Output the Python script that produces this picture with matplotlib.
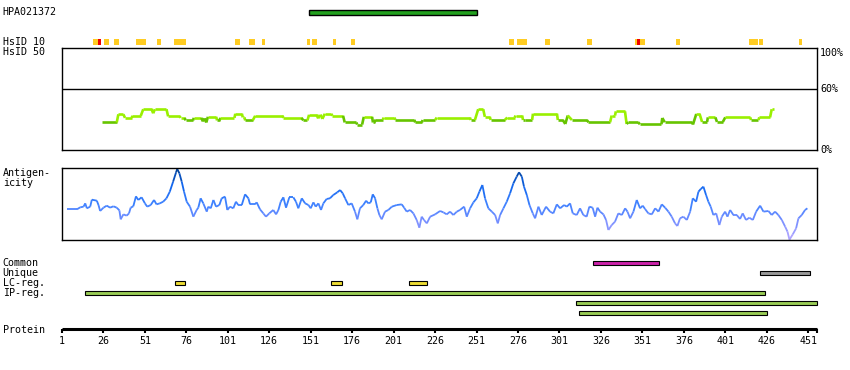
import numpy as np
import matplotlib
matplotlib.use("Agg")
import matplotlib.pyplot as plt
from matplotlib.patches import Rectangle
from matplotlib.collections import LineCollection
from matplotlib.colors import LinearSegmentedColormap

# --- data ---
protein_len = 456
antibody = "HPA021372"
antibody_range = (150, 251)

# HsID 10 marks (start, end) in residues
hsid10_start = [20, 27, 33, 46, 48, 59, 69, 106, 114, 122, 149, 152, 165, 176,
                271, 276, 293, 318, 347, 372, 416, 419, 422, 446]
hsid10_end = [24, 29, 35, 47, 51, 60, 75, 108, 117, 123, 150, 154, 166, 177,
              273, 281, 295, 320, 352, 373, 418, 420, 423, 447]
hsid10_red_start = [23, 348]
hsid10_red_end = [24, 349]

# HsID 50 similarity line (% identity), stepwise segments
hsid_start = [25, 35, 39, 43.5, 50, 56, 57, 65, 72.5, 75.5, 80.5, 86, 87, 88, 89,
              94.5, 96.5, 105.5, 110, 111.5, 117.5, 134.5, 146.5, 150, 155.5,
              156.5, 158, 159.5, 164, 171.5, 179, 183, 188.5, 190, 195, 202, 214,
              218.5, 227, 247.5, 252, 256, 259.5, 269.5, 274.5, 279, 280, 285,
              300, 304.5, 306, 308.5, 318.5, 332.5, 335, 341.5, 342.5, 349.5,
              363, 364.5, 381.5, 383.5, 387, 390.5, 396, 401, 416.5, 421.5, 429]
hsid_end = [34, 38, 43, 48.5, 55, 56, 64, 72, 75, 80, 85, 86, 87, 88, 94,
            96, 105, 109.5, 111, 116, 134, 145.5, 149, 154.5, 155.5,
            157, 158, 163.5, 170.5, 178.5, 182, 188, 189.5, 194.5, 201.5, 213.5, 218,
            226, 247, 250, 255, 259, 268, 274, 278.5, 279, 284.5, 299.5,
            303, 304.5, 306, 317.5, 331.5, 334.5, 340.5, 341.5, 348.5, 362.5,
            363, 381, 381.5, 385.5, 390, 395, 399.5, 416, 421, 428, 430.5]
hsid_val = [27, 35, 31.5, 33.5, 40, 36, 40, 33, 31.5, 29, 31.5, 28, 31, 27, 32.5,
            29, 31.5, 35.5, 32, 29, 33.5, 31.5, 29, 34.5, 31,
            34.5, 30.5, 35.5, 33.5, 27, 25, 32.5, 27, 29.8, 31.8, 29.6, 27,
            29.4, 31.8, 29.4, 40, 32.5, 29.4, 31.8, 33.8, 29.4, 29.4, 35.6,
            29.4, 25.5, 33.8, 29.4, 27.2, 33.8, 37.9, 25.5, 27.2, 25.2,
            31.4, 27.2, 25, 35.3, 27.5, 32, 27.5, 32, 29.4, 32, 40]

# antigenicity profile (relative score, 0-100)
ag_pos = [4, 10, 12, 14, 15, 16, 18, 19, 22, 23, 24, 26, 28, 30, 32, 34, 35.6, 36.4,
          38, 40, 41.4, 42.4, 44, 45.6, 47, 49, 51, 52.4, 54.5, 56.5, 58, 60, 62, 64,
          66, 68, 69.8, 70.5, 71.8, 73.2, 74.6, 76.2, 78.2, 80.2, 82.2, 83.2, 84.6,
          86.2, 88.3, 89.2, 90.7, 92.3, 93.9, 95.9, 97.3, 99.3, 100.7, 102.3, 104.3,
          105.9, 107.3, 109.4, 111.4, 113.4, 114.4, 117.4, 118.4, 120.4, 122.4, 124,
          126, 128.4, 130.1, 131.5, 132.9, 134.5, 136.1, 138.1, 140.5, 142.1, 143.5,
          145.6, 147.6, 149.6, 151, 152.6, 154, 155.6, 157.2, 158.6, 160.6, 162.6,
          164.6, 167, 168.7, 170.3, 171.7, 173.7, 175.7, 177.7, 179.1, 180.7, 182.7,
          184.4, 185.7, 187.2, 188.4, 189.8, 191.2, 192.4, 193.8, 195.8, 197.8, 199.9,
          202.9, 205.9, 207.3, 208.9, 210.9, 212.9, 214.9, 216.5, 217.9, 219.3, 221,
          223, 226, 229, 231, 233, 235, 237, 239.1, 241, 243.5, 245.1, 247.1, 249.1,
          251.1, 252.7, 254.5, 256.1, 258.1, 260.2, 262.2, 263.8, 265.2, 267.2, 269.2,
          271.2, 273.2, 275.2, 276.6, 278.3, 279.6, 281.3, 282.9, 284.9, 286.3, 288.3,
          290.3, 292.9, 295.3, 297.3, 299.4, 301.4, 303.8, 305.4, 307.4, 309, 311.4,
          313.4, 315.4, 317.4, 319, 321, 322.5, 323.9, 325.5, 327.5, 329.1, 330.5,
          332.5, 334.5, 336.5, 338.6, 340.6, 342, 343.6, 345.6, 347.6, 349.6, 351.2,
          352.6, 354.6, 356.7, 358.7, 360.7, 362.7, 364.7, 366.7, 368.7, 370.7, 372.1,
          373.7, 375.7, 377.8, 379.8, 381.4, 383.4, 384.8, 386.2, 387.8, 389.4, 390.8,
          392.2, 393.8, 395.5, 397.4, 398.9, 400.9, 402.3, 403.9, 405.9, 407.9, 409.9,
          411.5, 413.5, 415.5, 417.6, 419.6, 422, 424, 427, 429, 431, 433, 435.1,
          437.1, 438.5, 439.7, 441.7, 443.7, 445.1, 447.1, 449.1, 450.5]
ag_val = [42.6, 42.6, 45.4, 46.3, 50.9, 44.0, 46.3, 56.0, 54.6, 48.6, 40.3, 44.9, 47.7,
          44.9, 46.8, 44.9, 41.2, 28.7, 35.6, 33.8, 37.0, 44.9, 46.8, 60.6, 55.6, 59.3,
          50.9, 46.3, 48.6, 55.6, 49.5, 50.9, 53.2, 57.9, 67.1, 81.0, 94.0, 98.6, 92.6,
          81.0, 67.1, 53.2, 46.3, 32.4, 41.7, 44.9, 57.9, 50.9, 39.4, 46.3, 44.0, 55.6,
          46.3, 48.6, 57.9, 60.2, 41.7, 46.3, 44.0, 53.2, 48.6, 48.6, 63.4, 57.9, 49.5,
          49.5, 52.3, 42.6, 37.0, 32.4, 37.0, 41.7, 35.6, 41.7, 53.2, 59.3, 44.9, 59.3,
          59.3, 53.2, 44.0, 57.9, 50.9, 48.6, 44.0, 52.3, 46.3, 50.9, 41.7, 50.9, 57.0,
          57.9, 62.5, 66.2, 69.4, 64.8, 57.9, 48.6, 50.9, 39.4, 28.7, 44.0, 48.6, 54.6,
          50.9, 52.3, 63.4, 57.9, 44.0, 34.7, 28.7, 39.4, 41.7, 46.3, 48.6, 49.5, 44.9,
          39.4, 41.7, 37.0, 27.8, 17.1, 32.4, 27.8, 23.1, 32.4, 35.6, 40.3, 38.4, 35.6,
          39.4, 34.7, 39.4, 41.7, 46.3, 32.4, 44.0, 52.3, 57.9, 67.1, 76.4, 57.9, 44.0,
          39.4, 34.7, 23.1, 34.7, 44.0, 53.2, 64.8, 78.7, 88.0, 94.0, 88.0, 74.1, 62.5,
          48.6, 37.0, 30.1, 46.3, 34.7, 46.3, 39.4, 37.0, 49.5, 44.0, 48.6, 46.3, 50.9,
          37.0, 34.7, 44.0, 34.7, 32.4, 46.3, 44.9, 32.4, 44.9, 39.4, 35.6, 27.8, 13.9,
          20.8, 25.5, 37.0, 34.7, 44.0, 39.4, 30.1, 39.4, 55.6, 44.0, 47.7, 43.1, 37.0,
          35.6, 44.0, 39.4, 49.5, 44.9, 39.4, 32.4, 23.1, 19.4, 30.1, 32.4, 27.8, 39.4,
          57.9, 53.2, 67.1, 70.8, 74.1, 62.5, 53.2, 46.3, 34.7, 37.0, 20.8, 32.4, 39.4,
          32.4, 41.7, 34.7, 34.7, 29.2, 37.0, 27.8, 31.0, 27.8, 39.4, 47.7, 39.4, 40.3,
          34.7, 39.4, 34.7, 27.8, 18.5, 11.6, 0.5, 7.9, 16.2, 30.1, 34.7, 41.7, 44.0]

# feature tracks
common_start, common_end = [321], [361]
unique_start, unique_end = [422], [452]
lc_start, lc_end = [69, 163, 210], [75, 170, 221]
ip_start = [15, 311, 313]
ip_end = [425, 456, 426]

tick_labels = list(range(1, 452, 25))

# --- figure ---
W, H = 850, 370
fig = plt.figure(figsize=(W / 100, H / 100), dpi=100)
X0, X1 = 62, 817
XLIM = (1, protein_len + 0.3)
FONT = dict(family="DejaVu Sans Mono", fontsize=7.2, color="black")


def ax_px(top, bottom):
    return fig.add_axes([X0 / W, 1 - bottom / H, (X1 - X0) / W, (bottom - top) / H])


# track layer in pixel-y units
tr = fig.add_axes([X0 / W, 0, (X1 - X0) / W, 1])
tr.set_xlim(*XLIM)
tr.set_ylim(H, 0)
tr.axis("off")


def bar(ax, s, e, yc, h, color, lw=1.0):
    ax.add_patch(Rectangle((s, yc - h / 2), e - s, h, facecolor=color,
                           edgecolor="black", linewidth=lw, clip_on=False))


bar(tr, antibody_range[0], antibody_range[1], 12.3, 4.5, "#22a01e")

for s, e in zip(hsid10_start, hsid10_end):
    tr.add_patch(Rectangle((s - 0.5, 39.3), e - s + 1, 5.8, facecolor="#ffcc22",
                           edgecolor="none", clip_on=False))
for s, e in zip(hsid10_red_start, hsid10_red_end):
    tr.add_patch(Rectangle((s - 0.5, 39.3), e - s + 1, 5.8, facecolor="#ee0000",
                           edgecolor="none", clip_on=False))

row_h = 4.0
for s, e in zip(common_start, common_end):
    bar(tr, s, e, 262.5, row_h, "#cc22aa", 0.8)
for s, e in zip(unique_start, unique_end):
    bar(tr, s, e, 272.5, row_h, "#999999", 0.8)
for s, e in zip(lc_start, lc_end):
    bar(tr, s, e, 282.5, row_h, "#eedd33", 0.8)
for i, (s, e) in enumerate(zip(ip_start, ip_end)):
    bar(tr, s, e, 292.5 + 10 * i, row_h, "#99cc55", 0.8)

# protein axis
tr.plot([XLIM[0], XLIM[1]], [329.3, 329.3], color="black", linewidth=2.2,
        solid_capstyle="butt", clip_on=False)
for t in tick_labels + [protein_len + 0.3]:
    tr.plot([t, t], [329.3, 332.5], color="black", linewidth=1.5,
            solid_capstyle="butt", clip_on=False)
for t in tick_labels:
    tr.text(t, 341.5, str(t), ha="center", va="center", **FONT)

# HsID 50 panel
ax1 = ax_px(48, 150)
ax1.set_xlim(*XLIM)
ax1.set_ylim(0, 100)
ax1.set_xticks([])
ax1.set_yticks([])
for sp in ax1.spines.values():
    sp.set_linewidth(1.0)
ax1.axhline(60, color="black", linewidth=1.0)
px, py = [], []
for s, e, v in zip(hsid_start, hsid_end, hsid_val):
    px += [s, e]
    py += [v, v]
pts = np.column_stack([px, py])
segs = np.stack([pts[:-1], pts[1:]], axis=1)
seg_cols = ["#66c400" if min(a[1], b[1]) < 30.5 and (a[1] + b[1]) / 2 < 30.5
            else "#99f000" for a, b in segs]
ax1.add_collection(LineCollection(segs, colors=seg_cols, linewidths=1.9,
                                  capstyle="butt"))
for yv, lab, va in [(100, "100%", "top"), (60, "60%", "center"), (0, "0%", "center")]:
    ax1.text(1.004, yv / 100, lab, transform=ax1.transAxes, ha="left", va=va, **FONT)

# antigenicity panel
ax2 = ax_px(168, 240)
ax2.set_xlim(*XLIM)
ax2.set_ylim(0, 100)
ax2.set_xticks([])
ax2.set_yticks([])
for sp in ax2.spines.values():
    sp.set_linewidth(1.0)
cmap = LinearSegmentedColormap.from_list(
    "ag", [(0.0, "#b8a8ff"), (0.3, "#6f8cff"), (0.5, "#3f82ff"),
           (0.75, "#1166ee"), (1.0, "#003c8c")])
apts = np.column_stack([ag_pos, ag_val])
asegs = np.stack([apts[:-1], apts[1:]], axis=1)
amid = (apts[:-1, 1] + apts[1:, 1]) / 200
ax2.add_collection(LineCollection(asegs, colors=cmap(amid), linewidths=1.3))

# left labels
labels = [("HPA021372", 12.3), ("HsID 10", 42), ("HsID 50", 52.3),
          ("Antigen-", 173.3), ("icity", 183.3), ("Common", 262.7),
          ("Unique", 272.5), ("LC-reg.", 282.5), ("IP-reg.", 292.5),
          ("Protein", 330)]
for lab, y in labels:
    fig.text(2.7 / W, 1 - y / H, lab, ha="left", va="center", **FONT)

fig.savefig("out.png", dpi=100)
